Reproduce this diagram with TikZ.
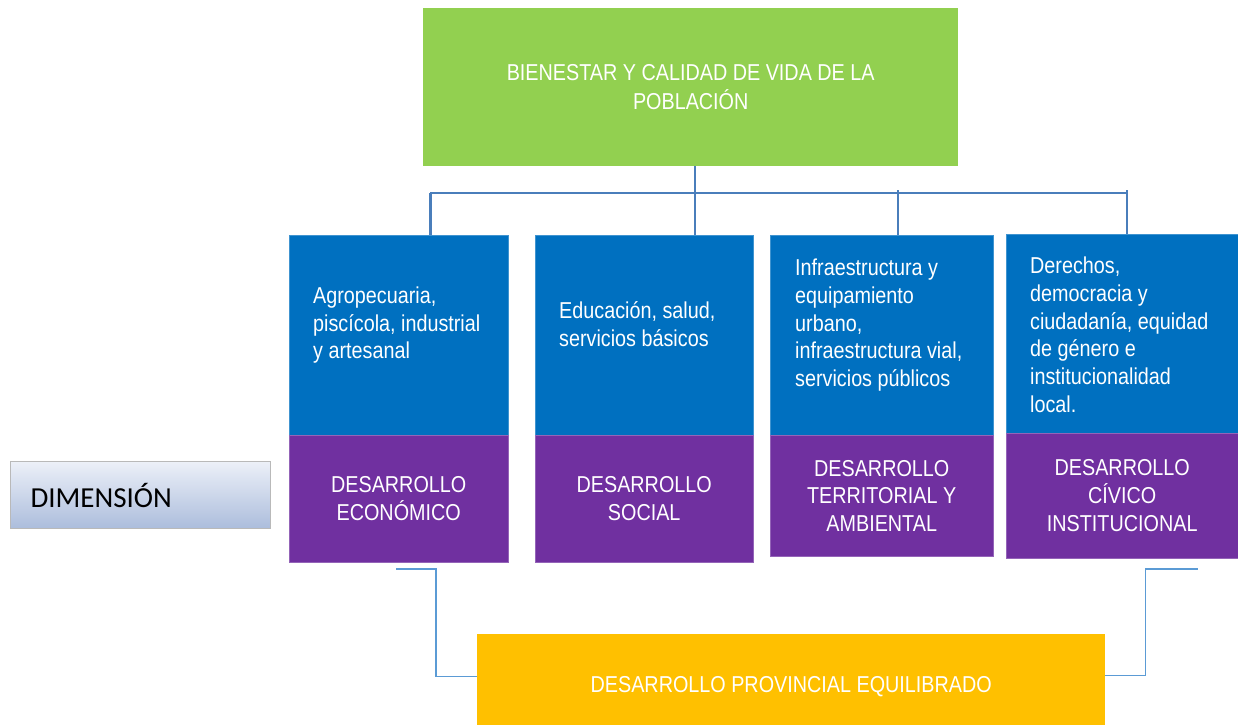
\documentclass[tikz,border=0pt]{standalone}
\usepackage{fontspec}
\setmainfont[FakeStretch=0.86]{Liberation Sans}
\newfontfamily\dimfont{Carlito}
\usetikzlibrary{positioning,calc}
\definecolor{verde}{HTML}{92D050}
\definecolor{azul}{HTML}{0070C0}
\definecolor{morado}{HTML}{7030A0}
\definecolor{amarillo}{HTML}{FFC000}
\definecolor{linea}{HTML}{4A7EBB}
\definecolor{lineaclara}{HTML}{5B9BD5}

\begin{document}
\begin{tikzpicture}[x=1pt,y=-1pt,
  caja/.style={anchor=north west, inner sep=0pt, text=white, align=center, font=\fontsize{23}{27.7}\selectfont},
  tema/.style={caja, fill=azul, draw=azul!75!white, minimum height=200pt},
  dimen/.style={caja, fill=morado, draw=morado!75!white},
  texto/.style={anchor=west, inner sep=0pt, text=white, align=left, font=\fontsize{23}{27.7}\selectfont},
  rama/.style={draw=linea, line width=1.5pt},
  enlace/.style={draw=lineaclara, line width=1.5pt}]
\useasboundingbox (0,0) rectangle (1238,725);

\node[caja, fill=verde, minimum width=535pt, minimum height=158pt, font=\fontsize{23}{29}\selectfont] (bienestar) at (423,8) {BIENESTAR Y CALIDAD DE VIDA DE LA\\POBLACIÓN};

\node[tema, minimum width=219pt] (eco) at (289,235) {};
\node[tema, minimum width=218pt] (soc) at (535,235) {};
\node[tema, minimum width=223pt] (ter) at (770,235) {};
\node[tema, minimum width=232pt, minimum height=199pt] (civ) at (1006,234) {};

\node[texto] (teco) at ($(eco.west)+(24,-10)$) {Agropecuaria,\\piscícola, industrial\\y artesanal};
\node[texto] (tsoc) at ($(soc.west)+(24,-11)$) {Educación, salud,\\servicios básicos};
\node[texto] (tter) at ($(ter.west)+(25,-10)$) {Infraestructura y\\equipamiento\\urbano,\\infraestructura vial,\\servicios públicos};
\node[texto] (tciv) at ($(civ.west)+(24,1)$) {Derechos,\\democracia y\\ciudadanía, equidad\\de género e\\institucionalidad\\local.};

\node[dimen, minimum width=219pt, minimum height=127pt] (deco) at (289,435) {DESARROLLO\\ECONÓMICO};
\node[dimen, minimum width=218pt, minimum height=127pt] (dsoc) at (535,435) {DESARROLLO\\SOCIAL};
\node[dimen, minimum width=223pt, minimum height=121pt] (dter) at (770,435) {DESARROLLO\\TERRITORIAL Y\\AMBIENTAL};
\node[dimen, minimum width=232pt, minimum height=125pt] (dciv) at (1006,433) {DESARROLLO\\CÍVICO\\INSTITUCIONAL};

\node[anchor=north west, minimum width=260pt, minimum height=67pt, text width=220pt, inner xsep=20pt, align=left,
  top color={rgb,255:red,236;green,240;blue,248}, bottom color={rgb,255:red,172;green,189;blue,220},
  draw=gray!55, line width=1pt, font=\dimfont\fontsize{29}{34}\selectfont] (dimension) at (10,461) {DIMENSIÓN};

\node[caja, fill=amarillo, minimum width=628pt, minimum height=91pt, text height=26pt, text depth=1pt] (equilibrado) at (477,634) {DESARROLLO PROVINCIAL EQUILIBRADO};

\coordinate (r1) at (430,193);
\coordinate (r2) at (695,193);
\coordinate (r3) at (898,193);
\coordinate (r4) at (1127,193);
\draw[rama] (r1) -- (r4);
\draw[rama] (bienestar.south -| r2) -- (soc.north -| r2);
\draw[rama, line width=3pt] (r1) -- (r1 |- eco.north);
\draw[rama] ($(r3)+(0,-3)$) -- (r3 |- ter.north);
\draw[rama] ($(r4)+(0,-3)$) -- (r4 |- civ.north);

\coordinate (e1) at (396,569);
\coordinate (e2) at (1198,569);
\draw[enlace] (e1) -- ++(40,0) |- ($(equilibrado.west)+(0,-3)$);
\draw[enlace] ($(equilibrado.east)+(0,-4)$) -- ++(40,0) |- (e2);
\end{tikzpicture}
\end{document}
